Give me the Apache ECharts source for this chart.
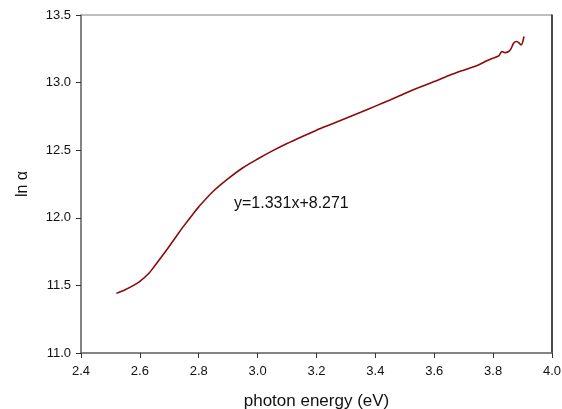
<!DOCTYPE html>
<html>
<head>
<meta charset="utf-8">
<script src="https://cdn.jsdelivr.net/npm/echarts@6/dist/echarts.min.js"></script>
<style>
html,body{margin:0;padding:0;background:#fff;}
#chart{width:562px;height:409px;}
</style>
</head>
<body>
<div id="chart"></div>
<script>
// Photon energy (eV) and ln(alpha) absorption curve
var energy = [2.52, 2.55, 2.58, 2.60, 2.63, 2.65, 2.68, 2.70, 2.73, 2.75, 2.78, 2.80,
  2.85, 2.90, 2.95, 3.00, 3.05, 3.10, 3.15, 3.20, 3.25, 3.30, 3.35, 3.40, 3.45,
  3.50, 3.55, 3.60, 3.65, 3.70, 3.72, 3.75, 3.78, 3.80, 3.82, 3.83, 3.84, 3.85,
  3.86, 3.87, 3.88, 3.89, 3.895, 3.905];
var lnAlpha = [11.441, 11.468, 11.502, 11.530, 11.588, 11.643, 11.730, 11.790, 11.882, 11.942, 12.027, 12.081,
  12.198, 12.290, 12.370, 12.435, 12.495, 12.550, 12.600, 12.648, 12.692, 12.736, 12.780, 12.826, 12.872,
  12.920, 12.965, 13.008, 13.052, 13.092, 13.107, 13.130, 13.163, 13.181, 13.200, 13.230, 13.222, 13.226,
  13.248, 13.293, 13.304, 13.289, 13.278, 13.341];
var fitText = 'y=1.331x+8.271';

var chart = echarts.init(document.getElementById('chart'), null, {renderer: 'canvas'});
var fontFam = '"Liberation Sans", Arial, sans-serif';
var pts = energy.map(function (e, i) { return [e, lnAlpha[i]]; });

chart.setOption({
  animation: false,
  backgroundColor: '#ffffff',
  grid: {left: 81, right: 10, top: 15, bottom: 56, containLabel: false, outerBoundsMode: 'none',
    show: true, borderColor: '#808080', borderWidth: 1},
  xAxis: {
    type: 'value', min: 2.4, max: 4.0, interval: 0.2,
    name: 'photon energy (eV)', nameLocation: 'middle', nameGap: 40,
    nameTextStyle: {fontFamily: fontFam, fontSize: 17, color: '#111'},
    axisLine: {lineStyle: {color: '#707070', width: 1.5}},
    axisTick: {length: 5, lineStyle: {color: '#333'}},
    axisLabel: {fontFamily: fontFam, fontSize: 13, color: '#111', margin: 12,
      formatter: function (v) { return v.toFixed(1); }},
    splitLine: {show: false}
  },
  yAxis: [{
    type: 'value', min: 11.0, max: 13.5, interval: 0.5,
    name: 'ln α', nameLocation: 'middle', nameGap: 50, nameRotate: 90,
    nameTextStyle: {fontFamily: fontFam, fontSize: 16, color: '#111'},
    axisLine: {show: true, lineStyle: {color: '#707070', width: 1.5}},
    axisTick: {show: true, length: 5, lineStyle: {color: '#333'}},
    axisLabel: {fontFamily: fontFam, fontSize: 13, color: '#111', margin: 10,
      formatter: function (v) { return v.toFixed(1); }},
    splitLine: {show: false}
  }, {
    type: 'value', min: 11.0, max: 13.5, position: 'right',
    axisLine: {show: true, lineStyle: {color: '#222', width: 1.5}},
    axisTick: {show: false}, axisLabel: {show: false}, splitLine: {show: false}
  }],
  graphic: [{
    type: 'text', left: 234, top: 196,
    style: {text: fitText, fontFamily: fontFam, fontSize: 16, fill: '#111'}
  }],
  series: [{
    type: 'line', data: pts, showSymbol: false, smooth: 0.3,
    lineStyle: {color: '#8b0a0a', width: 1.6}
  }]
});
</script>
</body>
</html>
